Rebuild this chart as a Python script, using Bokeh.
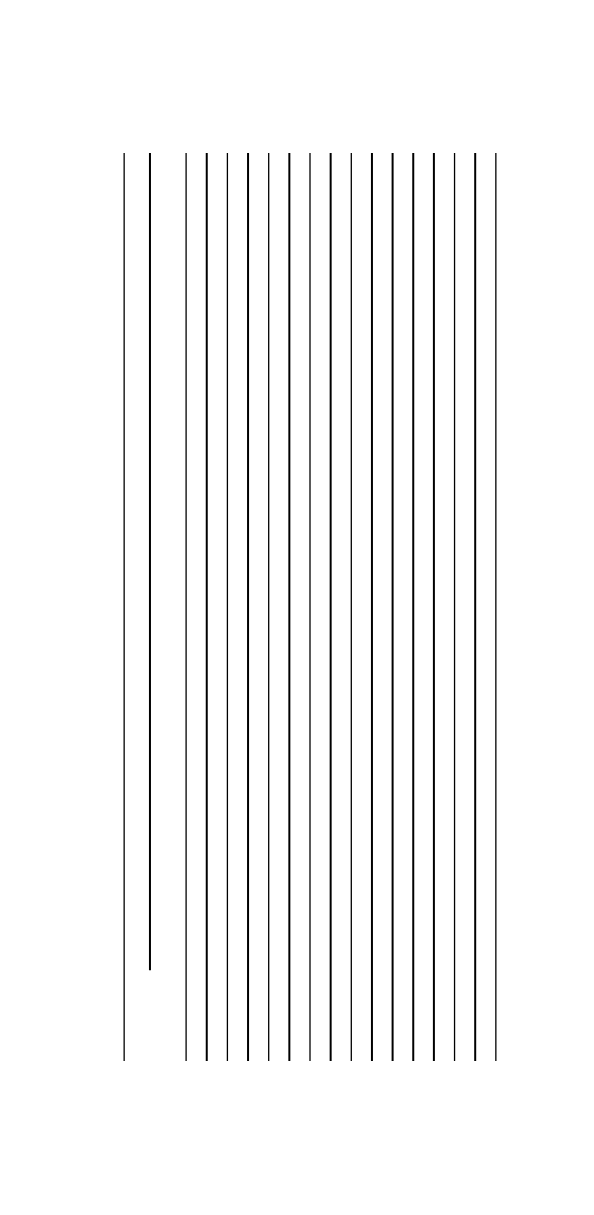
from bokeh.plotting import figure
from bokeh.models import Range1d, ColumnDataSource
from bokeh.embed import file_html
from bokeh.resources import INLINE

# Data: positions of vertical rules and their vertical extents
positions = [0, 1.25, 3, 4, 5, 6, 7, 8, 9, 10, 11, 12, 13, 14, 15, 16, 17, 18]
starts = [0, 10, 0, 0, 0, 0, 0, 0, 0, 0, 0, 0, 0, 0, 0, 0, 0, 0]
ends = [100] * len(positions)
# weight class of each rule (1 = thin, 2 = bold)
weights = [1, 2, 1, 2, 1, 2, 1, 2, 1, 2, 1, 2, 2, 2, 2, 1, 2, 1]

src = ColumnDataSource(dict(x=positions, y0=starts, y1=ends,
                            w=[1.3 if k == 1 else 2.0 for k in weights]))

p = figure(width=578, height=1199, output_backend="svg", toolbar_location=None,
           x_range=Range1d(-1, 19), y_range=Range1d(-5, 105),
           frame_width=413, frame_height=999,
           min_border_left=103, min_border_top=107, min_border_right=62, min_border_bottom=93)
p.axis.visible = False
p.grid.visible = False
p.outline_line_color = None

p.segment(x0="x", y0="y0", x1="x", y1="y1", source=src, line_color="black", line_width="w")

open("out.html", "w").write(file_html(p, INLINE))
